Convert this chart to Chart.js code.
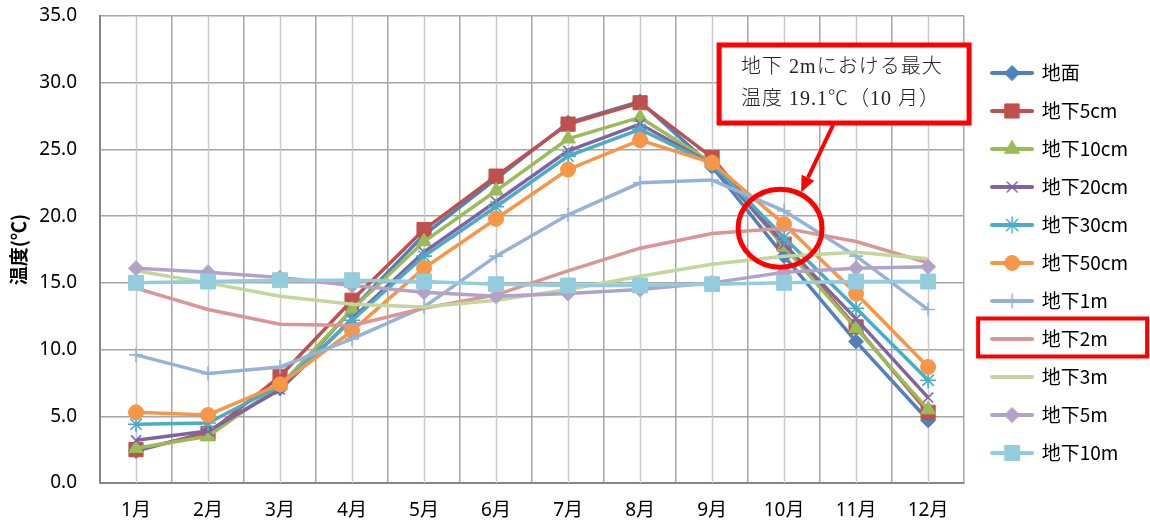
<!DOCTYPE html>
<html lang="ja">
<head>
<meta charset="utf-8">
<title>地中温度の月別推移</title>
<script src="https://cdn.jsdelivr.net/npm/chart.js@4/dist/chart.umd.min.js"></script>
<style>
  html, body { margin: 0; padding: 0; background: #ffffff; }
  #wrap { width: 1150px; height: 525px; position: relative; }
</style>
</head>
<body>
<div id="wrap"><canvas id="c" width="1150" height="525"></canvas></div>
<script>
// 月（横軸）
const months = ['1月', '2月', '3月', '4月', '5月', '6月', '7月', '8月', '9月', '10月', '11月', '12月'];

// 各深度の月平均温度 (℃)
const surface = [2.4, 3.8, 7.1, 13.0, 18.6, 22.8, 27.0, 28.6, 23.7, 17.0, 10.6, 4.7];
const depth5cm = [2.5, 3.7, 8.0, 13.7, 19.0, 23.0, 26.9, 28.5, 24.4, 17.9, 11.7, 5.3];
const depth10cm = [2.6, 3.5, 7.3, 13.0, 18.1, 21.9, 25.8, 27.4, 24.0, 17.7, 11.6, 5.5];
const depth20cm = [3.2, 3.9, 7.0, 12.3, 17.3, 21.1, 24.9, 26.9, 23.9, 17.9, 12.3, 6.4];
const depth30cm = [4.4, 4.5, 7.3, 12.2, 17.0, 20.7, 24.5, 26.5, 23.9, 18.4, 13.1, 7.7];
const depth50cm = [5.3, 5.1, 7.4, 11.4, 16.1, 19.8, 23.5, 25.7, 24.0, 19.4, 14.2, 8.7];
const depth1m = [9.6, 8.2, 8.7, 10.8, 13.2, 17.0, 20.1, 22.5, 22.7, 20.4, 17.0, 13.0];
const depth2m = [14.6, 13.0, 11.9, 11.8, 13.1, 14.1, 15.9, 17.6, 18.7, 19.1, 18.1, 16.5];
const depth3m = [15.9, 15.0, 14.0, 13.4, 13.2, 13.7, 14.5, 15.5, 16.4, 17.0, 17.3, 16.8];
const depth5m = [16.1, 15.8, 15.4, 14.8, 14.3, 14.0, 14.2, 14.5, 15.0, 15.8, 16.1, 16.2];
const depth10m = [15.0, 15.1, 15.2, 15.2, 15.1, 14.9, 14.8, 14.8, 14.9, 15.0, 15.1, 15.1];

// 縦軸
const yMin = 0;
const yMax = 35;
const yStep = 5;

// 注記
const noteLines = ['地下 2mにおける最大', '温度 19.1℃（10 月）'];
const noteSeriesIndex = 7;   // 地下2m
const noteMonthIndex = 9;    // 10月

const seriesDefs = [
  { label: '地面',     data: surface,   color: '#4F81BD', style: 'rectRot',  r: 7.5 },
  { label: '地下5cm',  data: depth5cm,  color: '#C0504D', style: 'rect',     r: 10 },
  { label: '地下10cm', data: depth10cm, color: '#9BBB59', style: 'triangle', r: 8.5 },
  { label: '地下20cm', data: depth20cm, color: '#8064A2', style: 'crossRot', r: 7 },
  { label: '地下30cm', data: depth30cm, color: '#4BACC6', style: 'star',     r: 8 },
  { label: '地下50cm', data: depth50cm, color: '#F79646', style: 'circle',   r: 7.5 },
  { label: '地下1m',   data: depth1m,   color: '#95B3D7', style: 'cross',    r: 7 },
  { label: '地下2m',   data: depth2m,   color: '#D99694', style: false,      r: 0 },
  { label: '地下3m',   data: depth3m,   color: '#C3D69B', style: false,      r: 0 },
  { label: '地下5m',   data: depth5m,   color: '#B3A2C7', style: 'rectRot',  r: 7.5 },
  { label: '地下10m',  data: depth10m,  color: '#93CDDD', style: 'rect',     r: 10.5 }
];

const strokeOnly = { crossRot: true, cross: true, star: true };

// 凡例用の線＋マーカー見本
function legendSwatch(def) {
  const cv = document.createElement('canvas');
  cv.width = 44; cv.height = 24;
  const g = cv.getContext('2d');
  g.strokeStyle = def.color;
  g.lineWidth = 4;
  g.lineCap = 'round';
  g.beginPath();
  g.moveTo(2, 12); g.lineTo(42, 12);
  g.stroke();
  if (def.style) {
    g.fillStyle = def.color;
    g.strokeStyle = def.color;
    g.lineWidth = strokeOnly[def.style] ? 1.5 : 1;
    Chart.helpers.drawPoint(g, { pointStyle: def.style, radius: def.r, rotation: 0, borderWidth: g.lineWidth }, 22, 12);
  }
  return cv;
}

const datasets = seriesDefs.map((d, i) => ({
  label: d.label,
  data: d.data,
  borderColor: d.color,
  backgroundColor: d.color,
  borderWidth: 3.5,
  tension: 0,
  pointStyle: d.style || 'circle',
  pointRadius: d.style ? d.r : 0,
  pointHoverRadius: d.style ? d.r : 0,
  pointBackgroundColor: d.color,
  pointBorderColor: d.color,
  pointBorderWidth: d.style && strokeOnly[d.style] ? 1.6 : 1,
  order: -i,
  swatch: legendSwatch(d)
}));

// 月の中央にも細い縦線を引く
const midGrid = {
  id: 'midGrid',
  beforeDatasetsDraw(chart) {
    const { ctx, chartArea: a, scales: { x } } = chart;
    ctx.save();
    ctx.strokeStyle = '#cacaca';
    ctx.lineWidth = 1.5;
    months.forEach((m, i) => {
      const px = Math.round(x.getPixelForValue(i)) + 0.5;
      ctx.beginPath();
      ctx.moveTo(px, a.top);
      ctx.lineTo(px, a.bottom);
      ctx.stroke();
    });
    ctx.restore();
  }
};

// 最大温度の注記（囲み・矢印・円）と凡例の強調枠
const noteLayer = {
  id: 'noteLayer',
  afterDraw(chart) {
    const { ctx, scales: { x, y } } = chart;
    const cx = x.getPixelForValue(noteMonthIndex) - 4;
    const cy = y.getPixelForValue(depth2m[noteMonthIndex]);
    ctx.save();
    ctx.strokeStyle = '#FF0000';
    ctx.fillStyle = '#FF0000';

    // 円
    ctx.lineWidth = 5;
    ctx.beginPath();
    ctx.ellipse(cx, cy, 42, 39, 0, 0, Math.PI * 2);
    ctx.stroke();

    // 囲み
    const bx = cx - 61, by = 45, bw = 250, bh = 78;
    ctx.fillStyle = '#ffffff';
    ctx.fillRect(bx, by, bw, bh);
    ctx.lineWidth = 5;
    ctx.strokeRect(bx, by, bw, bh);

    ctx.fillStyle = '#222222';
    ctx.font = '300 20px "Liberation Serif", "Noto Sans CJK JP"';
    if ('letterSpacing' in ctx) ctx.letterSpacing = '1px';
    ctx.textBaseline = 'middle';
    ctx.textAlign = 'left';
    ctx.fillText(noteLines[0], bx + 22, by + 23);
    ctx.fillText(noteLines[1], bx + 22, by + 55);
    if ('letterSpacing' in ctx) ctx.letterSpacing = '0px';

    // 矢印
    const sx = bx + 114, sy = by + bh + 2;
    const tx = cx + 21, ty = cy - 36;
    const ang = Math.atan2(ty - sy, tx - sx);
    const head = 16, hw = 7;
    const ex = tx - Math.cos(ang) * head, ey = ty - Math.sin(ang) * head;
    ctx.strokeStyle = '#FF0000';
    ctx.lineWidth = 4;
    ctx.beginPath();
    ctx.moveTo(sx, sy);
    ctx.lineTo(ex, ey);
    ctx.stroke();
    ctx.fillStyle = '#FF0000';
    ctx.beginPath();
    ctx.moveTo(tx, ty);
    ctx.lineTo(ex + Math.sin(ang) * hw, ey - Math.cos(ang) * hw);
    ctx.lineTo(ex - Math.sin(ang) * hw, ey + Math.cos(ang) * hw);
    ctx.closePath();
    ctx.fill();

    // 凡例「地下2m」の枠
    const hb = chart.legend.legendHitBoxes[noteSeriesIndex];
    if (hb) {
      ctx.strokeStyle = '#FF0000';
      ctx.lineWidth = 4;
      ctx.strokeRect(hb.left - 14, hb.top - 11, 169, 38);
    }
    ctx.restore();
  }
};

const tickFont = { family: '"Noto Sans", "Noto Sans CJK JP", sans-serif', size: 19 };

new Chart(document.getElementById('c'), {
  type: 'line',
  data: { labels: months, datasets },
  plugins: [midGrid, noteLayer],
  options: {
    responsive: false,
    animation: false,
    events: [],
    layout: { padding: { top: 1, right: 12, bottom: 0, left: 0 } },
    plugins: {
      tooltip: { enabled: false },
      legend: {
        position: 'right',
        align: 'center',
        labels: {
          color: '#000000',
          font: { family: '"Noto Sans CJK JP", sans-serif', size: 19 },
          usePointStyle: true,
          pointStyleWidth: 40,
          boxHeight: 19,
          padding: 19,
          generateLabels(chart) {
            return chart.data.datasets.map((ds, i) => ({
              text: ds.label,
              pointStyle: ds.swatch,
              fillStyle: ds.borderColor,
              strokeStyle: ds.borderColor,
              lineWidth: 0,
              hidden: false,
              datasetIndex: i
            }));
          }
        }
      }
    },
    scales: {
      x: {
        offset: true,
        grid: { offset: true, color: '#a6a6a6', lineWidth: 1.5, drawTicks: false },
        border: { color: '#868686', width: 2 },
        ticks: { color: '#000000', font: tickFont, padding: 16.5, maxRotation: 0 },
        afterFit(scale) {
          scale.height = 42;
          scale.paddingLeft = 0;
          scale.paddingRight = 0;
        }
      },
      y: {
        min: yMin,
        max: yMax,
        grid: { color: '#a6a6a6', lineWidth: 1.5, drawTicks: false },
        border: { color: '#868686', width: 2 },
        ticks: {
          stepSize: yStep,
          color: '#000000',
          font: tickFont,
          padding: 23,
          callback: v => Number(v).toFixed(1)
        },
        title: {
          display: true,
          text: '温度(℃)',
          color: '#000000',
          font: { family: '"Noto Sans CJK JP", sans-serif', size: 19, weight: 'bold' },
          padding: { top: 7, bottom: 0 }
        },
        afterFit(scale) {
          scale.width = 100;
          scale.paddingTop = 16;
          scale.paddingBottom = 0;
        }
      },
      // 凡例との間隔を空けるための余白
      gap: {
        type: 'linear',
        position: 'right',
        display: true,
        grid: { display: false },
        border: { display: false },
        ticks: { display: false },
        afterFit(scale) {
          scale.width = 9;
          scale.paddingTop = 0;
          scale.paddingBottom = 0;
        }
      }
    }
  }
});
</script>
</body>
</html>
